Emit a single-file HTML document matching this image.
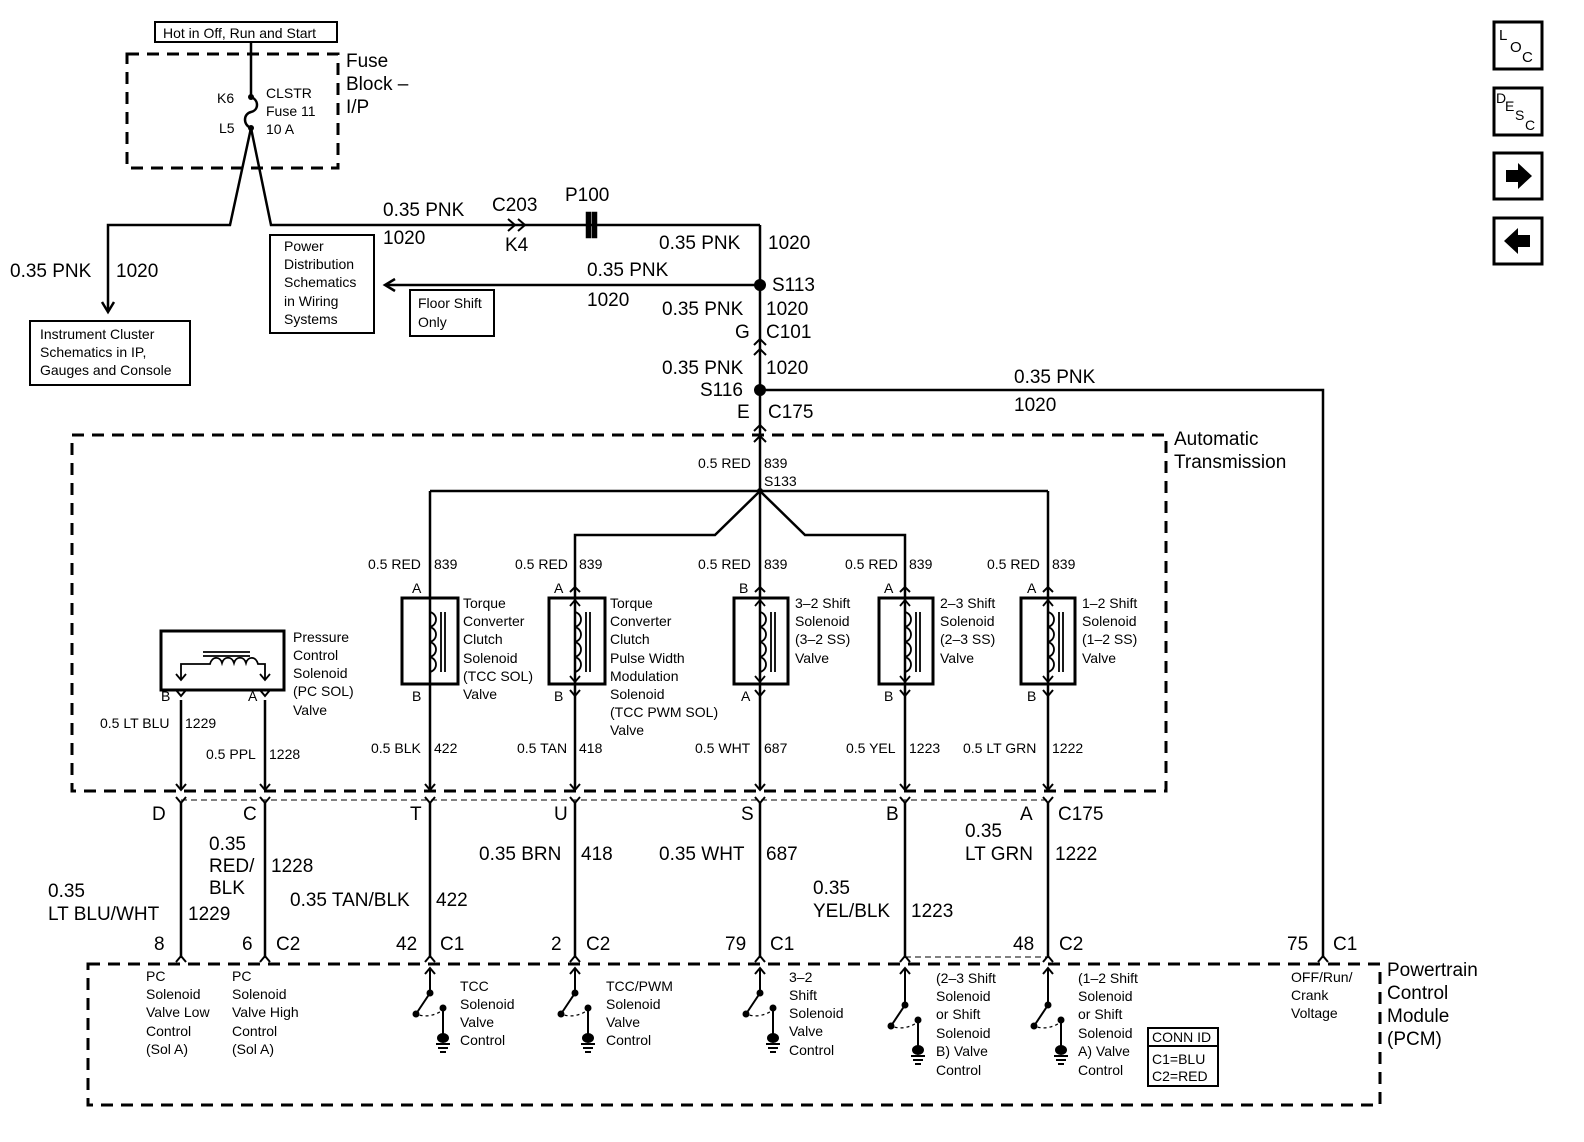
<!DOCTYPE html>
<html><head><meta charset="utf-8"><style>
html,body{margin:0;padding:0;background:#fff}
svg{display:block}
text{font-family:"Liberation Sans",sans-serif;fill:#000}
.b{font-size:19px}
.s{font-size:14px}
.m{font-size:15px}
.l{font-size:19px}
</style></head><body>
<svg width="1584" height="1142" viewBox="0 0 1584 1142" xmlns="http://www.w3.org/2000/svg">
<g fill="none" stroke="#000" stroke-width="2.5">
<!-- dashed boxes -->
<rect x="127" y="54" width="211" height="114" stroke-dasharray="12,8" stroke-width="3"/>
<rect x="72" y="435" width="1094" height="356" stroke-dasharray="12,8" stroke-width="3"/>
<rect x="88" y="964" width="1292" height="141" stroke-dasharray="12,8" stroke-width="3"/>
<line x1="181" y1="800" x2="1048" y2="800" stroke-width="1" stroke-dasharray="6,4"/>
<line x1="905" y1="957" x2="1048" y2="957" stroke-width="1" stroke-dasharray="6,4"/>
<!-- boxes -->
<rect x="155" y="22" width="182" height="20" stroke-width="2"/>
<rect x="30" y="321" width="160" height="64" stroke-width="2"/>
<rect x="270" y="235" width="104" height="98" stroke-width="2"/>
<rect x="410" y="290" width="84" height="46" stroke-width="2"/>
<rect x="1148" y="1028" width="70" height="58" stroke-width="2"/>
<line x1="1148" y1="1046" x2="1218" y2="1046" stroke-width="2"/>
<!-- fuse -->
<path d="M251 42 V97 C259 100 259 110 251 112 C243 114 243 125 251 128"/>
<path d="M251 128 L230 225 H108 V312 M251 128 L271 225 H760"/>
<path d="M102 302 L108 312 L114 302"/>
<!-- C203 & P100 -->
<path d="M508 219 L515 225 L508 231 M518 219 L525 225 L518 231" stroke-width="2"/>
<rect x="587" y="213" width="3" height="24" fill="#000"/><rect x="593" y="213" width="3" height="24" fill="#000"/>
<path d="M760 225 V440"/>
<path d="M385 285 H760"/>
<path d="M395 279 L385 285 L395 291"/>
<path d="M754 345 L760 339 L766 345 M754 355 L760 349 L766 355" stroke-width="2"/>
<path d="M760 390 H1323 V958"/>
<path d="M754 431 L760 425 L766 431 M754 442 L760 436 L766 442" stroke-width="2"/>
<!-- transmission internal -->
<path d="M430 491 H1048 M430 491 V790 M1048 491 V790 M760 440 V790"/>
<path d="M760 491 L715 535 H575 V790 M760 491 L805 535 H905 V790"/>
<!-- solenoid boxes -->
<rect x="402" y="598" width="56" height="86" stroke-width="3"/>
<rect x="549" y="598" width="56" height="86" stroke-width="3"/>
<rect x="734" y="598" width="54" height="86" stroke-width="3"/>
<rect x="879" y="598" width="54" height="86" stroke-width="3"/>
<rect x="1021" y="598" width="54" height="86" stroke-width="3"/>
<rect x="161" y="631" width="123" height="59" stroke-width="3"/>
<!-- coils -->
<g stroke-width="1.8">
<path d="M430 612 C438 614 438 625 430 627 C438 629 438 640 430 642 C438 644 438 655 430 657 C438 659 438 670 430 672"/>
<path d="M441 612 V672 M445 612 V672"/>
<path d="M575 612 C583 614 583 625 575 627 C583 629 583 640 575 642 C583 644 583 655 575 657 C583 659 583 670 575 672"/>
<path d="M586 612 V672 M590 612 V672"/>
<path d="M760 612 C768 614 768 625 760 627 C768 629 768 640 760 642 C768 644 768 655 760 657 C768 659 768 670 760 672"/>
<path d="M771 612 V672 M775 612 V672"/>
<path d="M905 612 C913 614 913 625 905 627 C913 629 913 640 905 642 C913 644 913 655 905 657 C913 659 913 670 905 672"/>
<path d="M916 612 V672 M920 612 V672"/>
<path d="M1048 612 C1056 614 1056 625 1048 627 C1056 629 1056 640 1048 642 C1056 644 1056 655 1048 657 C1056 659 1056 670 1048 672"/>
<path d="M1059 612 V672 M1063 612 V672"/>
<!-- arrows in boxes -->
<path d="M570 606 L575 600 L580 606 M570 676 L575 682 L580 676"/>
<path d="M755 606 L760 600 L765 606 M755 676 L760 682 L765 676"/>
<path d="M900 606 L905 600 L910 606 M900 676 L905 682 L910 676"/>
<path d="M1043 606 L1048 600 L1053 606 M1043 676 L1048 682 L1053 676"/>
<!-- pc sol -->
<path d="M181 680 V664 H210 C212 656 220 656 222 663 C224 656 232 656 234 663 C236 656 244 656 246 663 C248 656 256 656 258 664 H265 V680"/>
<path d="M203 652 H250 M203 656 H250"/>
<path d="M176 674 L181 680 L186 674 M260 674 L265 680 L270 674"/>
</g>
<path d="M181 700 V790 M265 700 V790"/>
<!-- connector marks at solenoids -->
<g stroke-width="2">
<path d="M570 592 L575 587 L580 592 M755 592 L760 587 L765 592 M900 592 L905 587 L910 592 M1043 592 L1048 587 L1053 592"/>
<path d="M570 690 L575 696 L580 690 M755 690 L760 696 L765 690 M900 690 L905 696 L910 690 M1043 690 L1048 696 L1053 690 M176 690 L181 696 L186 690 M260 690 L265 696 L270 690"/>
</g>
<!-- C175 bottom connectors -->
<g stroke-width="2">
<path d="M176 784 L181 790 L186 784 M260 784 L265 790 L270 784 M425 784 L430 790 L435 784 M570 784 L575 790 L580 784 M755 784 L760 790 L765 784 M900 784 L905 790 L910 784 M1043 784 L1048 790 L1053 784"/>
<path d="M176 797 L181 803 L186 797 M260 797 L265 803 L270 797 M425 797 L430 803 L435 797 M570 797 L575 803 L580 797 M755 797 L760 803 L765 797 M900 797 L905 803 L910 797 M1043 797 L1048 803 L1053 797"/>
</g>
<path d="M181 803 V958 M265 803 V958 M430 803 V958 M575 803 V958 M760 803 V958 M905 803 V958 M1048 803 V958"/>
<!-- PCM connectors -->
<g stroke-width="2">
<path d="M176 962 L181 956 L186 962 M260 962 L265 956 L270 962 M425 962 L430 956 L435 962 M570 962 L575 956 L580 962 M755 962 L760 956 L765 962 M900 962 L905 956 L910 962 M1043 962 L1048 956 L1053 962 M1318 962 L1323 956 L1328 962"/>
<path d="M425 974 L430 968 L435 974 M570 974 L575 968 L580 974 M755 974 L760 968 L765 974 M900 974 L905 968 L910 974 M1043 974 L1048 968 L1053 974"/>
</g>
<!-- switches -->
<g stroke-width="2">
<path d="M430 968 V993 L416 1014 M575 968 V993 L561 1014 M760 968 V993 L746 1014 M905 968 V1005 L891 1026 M1048 968 V1005 L1034 1026"/>
<path d="M443 1008 V1034 M588 1008 V1034 M773 1008 V1034 M918 1020 V1046 M1061 1020 V1046"/>
<path d="M436 1044 H450 M438 1048 H448 M440 1052 H446 M581 1044 H595 M583 1048 H593 M585 1052 H591 M766 1044 H780 M768 1048 H778 M770 1052 H776 M911 1056 H925 M913 1060 H923 M915 1064 H921 M1054 1056 H1068 M1056 1060 H1066 M1058 1064 H1064"/>
<path d="M414 1013 Q428 1020 443 1010 M559 1013 Q573 1020 588 1010 M744 1013 Q758 1020 773 1010 M889 1025 Q903 1032 918 1022 M1032 1025 Q1046 1032 1061 1022" stroke-width="1.2" stroke-dasharray="3,3"/>
</g>
<!-- nav icons -->
<rect x="1494" y="22" width="48" height="47" stroke-width="3"/>
<rect x="1494" y="88" width="48" height="47" stroke-width="3"/>
<rect x="1494" y="153" width="48" height="46" stroke-width="3"/>
<rect x="1494" y="218" width="48" height="46" stroke-width="3"/>
</g>
<g fill="#000">
<circle cx="251" cy="97" r="3"/><circle cx="251" cy="128" r="3"/>
<circle cx="760" cy="285" r="6"/><circle cx="760" cy="390" r="6"/><circle cx="760" cy="491" r="3"/>
<circle cx="430" cy="993" r="3.5"/><circle cx="416" cy="1014" r="3.5"/><circle cx="443" cy="1008" r="3.5"/><ellipse cx="443" cy="1038" rx="6" ry="5"/>
<circle cx="575" cy="993" r="3.5"/><circle cx="561" cy="1014" r="3.5"/><circle cx="588" cy="1008" r="3.5"/><ellipse cx="588" cy="1038" rx="6" ry="5"/>
<circle cx="760" cy="993" r="3.5"/><circle cx="746" cy="1014" r="3.5"/><circle cx="773" cy="1008" r="3.5"/><ellipse cx="773" cy="1038" rx="6" ry="5"/>
<circle cx="905" cy="1005" r="3.5"/><circle cx="891" cy="1026" r="3.5"/><circle cx="918" cy="1020" r="3.5"/><ellipse cx="918" cy="1050" rx="6" ry="5"/>
<circle cx="1048" cy="1005" r="3.5"/><circle cx="1034" cy="1026" r="3.5"/><circle cx="1061" cy="1020" r="3.5"/><ellipse cx="1061" cy="1050" rx="6" ry="5"/>
<path d="M1506 170 H1518 V163 L1532 176 L1518 189 V182 H1506 Z"/>
<path d="M1530 235 H1518 V228 L1504 241 L1518 254 V247 H1530 Z"/>
</g>
<!-- text -->
<text x="163" y="38" class="s">Hot in Off, Run and Start</text>
<text x="346" y="67" class="l">Fuse</text><text x="346" y="90" class="l">Block –</text><text x="346" y="113" class="l">I/P</text>
<text x="217" y="103" class="s">K6</text><text x="219" y="133" class="s">L5</text>
<text x="266" y="98" class="s">CLSTR</text><text x="266" y="116" class="s">Fuse 11</text><text x="266" y="134" class="s">10 A</text>
<text x="10" y="277" class="b">0.35 PNK</text><text x="116" y="277" class="b">1020</text>
<text x="40" y="339" class="s">Instrument Cluster</text><text x="40" y="357" class="s">Schematics in IP,</text><text x="40" y="375" class="s">Gauges and Console</text>
<text x="284" y="251" class="s">Power</text><text x="284" y="269" class="s">Distribution</text><text x="284" y="287" class="s">Schematics</text><text x="284" y="306" class="s">in Wiring</text><text x="284" y="324" class="s">Systems</text>
<text x="418" y="308" class="s">Floor Shift</text><text x="418" y="327" class="s">Only</text>
<text x="383" y="216" class="b">0.35 PNK</text><text x="383" y="244" class="b">1020</text>
<text x="492" y="211" class="b">C203</text><text x="505" y="251" class="b">K4</text>
<text x="565" y="201" class="b">P100</text>
<text x="659" y="249" class="b">0.35 PNK</text><text x="768" y="249" class="b">1020</text>
<text x="587" y="276" class="b">0.35 PNK</text><text x="587" y="306" class="b">1020</text>
<text x="772" y="291" class="b">S113</text>
<text x="662" y="315" class="b">0.35 PNK</text><text x="766" y="315" class="b">1020</text>
<text x="735" y="338" class="b">G</text><text x="766" y="338" class="b">C101</text>
<text x="662" y="374" class="b">0.35 PNK</text><text x="766" y="374" class="b">1020</text>
<text x="700" y="396" class="b">S116</text>
<text x="737" y="418" class="b">E</text><text x="768" y="418" class="b">C175</text>
<text x="1014" y="383" class="b">0.35 PNK</text><text x="1014" y="411" class="b">1020</text>
<text x="1174" y="445" class="b">Automatic</text><text x="1174" y="468" class="b">Transmission</text>
<text x="698" y="468" class="s">0.5 RED</text><text x="764" y="468" class="s">839</text><text x="764" y="486" class="s">S133</text>
<text x="368" y="569" class="s">0.5 RED</text><text x="434" y="569" class="s">839</text>
<text x="515" y="569" class="s">0.5 RED</text><text x="579" y="569" class="s">839</text>
<text x="698" y="569" class="s">0.5 RED</text><text x="764" y="569" class="s">839</text>
<text x="845" y="569" class="s">0.5 RED</text><text x="909" y="569" class="s">839</text>
<text x="987" y="569" class="s">0.5 RED</text><text x="1052" y="569" class="s">839</text>
<text x="412" y="593" class="s">A</text><text x="554" y="593" class="s">A</text><text x="739" y="593" class="s">B</text><text x="884" y="593" class="s">A</text><text x="1027" y="593" class="s">A</text>
<text x="412" y="701" class="s">B</text><text x="554" y="701" class="s">B</text><text x="741" y="701" class="s">A</text><text x="884" y="701" class="s">B</text><text x="1027" y="701" class="s">B</text>
<text x="161" y="701" class="s">B</text><text x="248" y="701" class="s">A</text>
<text x="463" y="608" class="s">Torque</text><text x="463" y="626" class="s">Converter</text><text x="463" y="644" class="s">Clutch</text><text x="463" y="663" class="s">Solenoid</text><text x="463" y="681" class="s">(TCC SOL)</text><text x="463" y="699" class="s">Valve</text>
<text x="610" y="608" class="s">Torque</text><text x="610" y="626" class="s">Converter</text><text x="610" y="644" class="s">Clutch</text><text x="610" y="663" class="s">Pulse Width</text><text x="610" y="681" class="s">Modulation</text><text x="610" y="699" class="s">Solenoid</text><text x="610" y="717" class="s">(TCC PWM SOL)</text><text x="610" y="735" class="s">Valve</text>
<text x="795" y="608" class="s">3–2 Shift</text><text x="795" y="626" class="s">Solenoid</text><text x="795" y="644" class="s">(3–2 SS)</text><text x="795" y="663" class="s">Valve</text>
<text x="940" y="608" class="s">2–3 Shift</text><text x="940" y="626" class="s">Solenoid</text><text x="940" y="644" class="s">(2–3 SS)</text><text x="940" y="663" class="s">Valve</text>
<text x="1082" y="608" class="s">1–2 Shift</text><text x="1082" y="626" class="s">Solenoid</text><text x="1082" y="644" class="s">(1–2 SS)</text><text x="1082" y="663" class="s">Valve</text>
<text x="293" y="642" class="s">Pressure</text><text x="293" y="660" class="s">Control</text><text x="293" y="678" class="s">Solenoid</text><text x="293" y="696" class="s">(PC SOL)</text><text x="293" y="715" class="s">Valve</text>
<text x="100" y="728" class="s">0.5 LT BLU</text><text x="185" y="728" class="s">1229</text>
<text x="206" y="759" class="s">0.5 PPL</text><text x="269" y="759" class="s">1228</text>
<text x="371" y="753" class="s">0.5 BLK</text><text x="434" y="753" class="s">422</text>
<text x="517" y="753" class="s">0.5 TAN</text><text x="579" y="753" class="s">418</text>
<text x="695" y="753" class="s">0.5 WHT</text><text x="764" y="753" class="s">687</text>
<text x="846" y="753" class="s">0.5 YEL</text><text x="909" y="753" class="s">1223</text>
<text x="963" y="753" class="s">0.5 LT GRN</text><text x="1052" y="753" class="s">1222</text>
<text x="152" y="820" class="b">D</text><text x="243" y="820" class="b">C</text><text x="410" y="820" class="b">T</text><text x="554" y="820" class="b">U</text><text x="741" y="820" class="b">S</text><text x="886" y="820" class="b">B</text><text x="1020" y="820" class="b">A</text><text x="1058" y="820" class="b">C175</text>
<text x="209" y="850" class="b">0.35</text><text x="209" y="872" class="b">RED/</text><text x="209" y="894" class="b">BLK</text><text x="271" y="872" class="b">1228</text>
<text x="48" y="897" class="b">0.35</text><text x="48" y="920" class="b">LT BLU/WHT</text><text x="188" y="920" class="b">1229</text>
<text x="290" y="906" class="b">0.35 TAN/BLK</text><text x="436" y="906" class="b">422</text>
<text x="479" y="860" class="b">0.35 BRN</text><text x="581" y="860" class="b">418</text>
<text x="659" y="860" class="b">0.35 WHT</text><text x="766" y="860" class="b">687</text>
<text x="965" y="837" class="b">0.35</text><text x="965" y="860" class="b">LT GRN</text><text x="1055" y="860" class="b">1222</text>
<text x="813" y="894" class="b">0.35</text><text x="813" y="917" class="b">YEL/BLK</text><text x="911" y="917" class="b">1223</text>
<text x="154" y="950" class="b">8</text><text x="242" y="950" class="b">6</text><text x="276" y="950" class="b">C2</text>
<text x="396" y="950" class="b">42</text><text x="440" y="950" class="b">C1</text>
<text x="551" y="950" class="b">2</text><text x="586" y="950" class="b">C2</text>
<text x="725" y="950" class="b">79</text><text x="770" y="950" class="b">C1</text>
<text x="1013" y="950" class="b">48</text><text x="1059" y="950" class="b">C2</text>
<text x="1287" y="950" class="b">75</text><text x="1333" y="950" class="b">C1</text>
<text x="146" y="981" class="s">PC</text><text x="146" y="999" class="s">Solenoid</text><text x="146" y="1017" class="s">Valve Low</text><text x="146" y="1036" class="s">Control</text><text x="146" y="1054" class="s">(Sol A)</text>
<text x="232" y="981" class="s">PC</text><text x="232" y="999" class="s">Solenoid</text><text x="232" y="1017" class="s">Valve High</text><text x="232" y="1036" class="s">Control</text><text x="232" y="1054" class="s">(Sol A)</text>
<text x="460" y="991" class="s">TCC</text><text x="460" y="1009" class="s">Solenoid</text><text x="460" y="1027" class="s">Valve</text><text x="460" y="1045" class="s">Control</text>
<text x="606" y="991" class="s">TCC/PWM</text><text x="606" y="1009" class="s">Solenoid</text><text x="606" y="1027" class="s">Valve</text><text x="606" y="1045" class="s">Control</text>
<text x="789" y="982" class="s">3–2</text><text x="789" y="1000" class="s">Shift</text><text x="789" y="1018" class="s">Solenoid</text><text x="789" y="1036" class="s">Valve</text><text x="789" y="1055" class="s">Control</text>
<text x="936" y="983" class="s">(2–3 Shift</text><text x="936" y="1001" class="s">Solenoid</text><text x="936" y="1019" class="s">or Shift</text><text x="936" y="1038" class="s">Solenoid</text><text x="936" y="1056" class="s">B) Valve</text><text x="936" y="1075" class="s">Control</text>
<text x="1078" y="983" class="s">(1–2 Shift</text><text x="1078" y="1001" class="s">Solenoid</text><text x="1078" y="1019" class="s">or Shift</text><text x="1078" y="1038" class="s">Solenoid</text><text x="1078" y="1056" class="s">A) Valve</text><text x="1078" y="1075" class="s">Control</text>
<text x="1291" y="982" class="s">OFF/Run/</text><text x="1291" y="1000" class="s">Crank</text><text x="1291" y="1018" class="s">Voltage</text>
<text x="1152" y="1042" class="s">CONN ID</text><text x="1152" y="1064" class="s">C1=BLU</text><text x="1152" y="1081" class="s">C2=RED</text>
<text x="1387" y="976" class="b">Powertrain</text><text x="1387" y="999" class="b">Control</text><text x="1387" y="1022" class="b">Module</text><text x="1387" y="1045" class="b">(PCM)</text>
<text x="1499" y="40" class="m">L</text><text x="1510" y="52" class="m">O</text><text x="1522" y="62" class="m">C</text>
<text x="1496" y="103" class="s">D</text><text x="1505" y="111" class="s">E</text><text x="1515" y="120" class="s">S</text><text x="1525" y="130" class="s">C</text>
</svg>
</body></html>
